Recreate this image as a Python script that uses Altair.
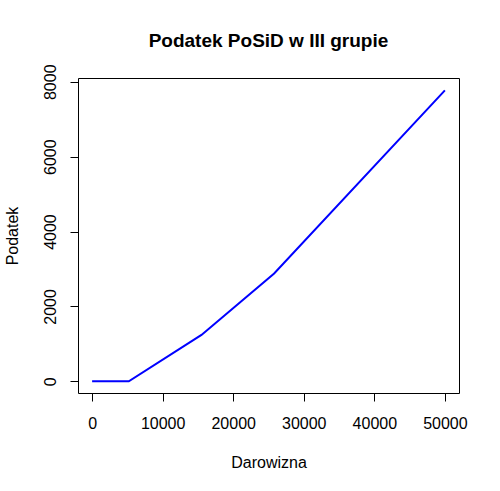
import altair as alt
import pandas as pd

# Gift tax for tax group III: zero up to the exempt amount, then 12% / 16% / 20% brackets
darowizna = [0, 5200, 15500, 25800, 50000]
podatek = [0, 0, 1240, 2880, 7770]

x_ticks = [0, 10000, 20000, 30000, 40000, 50000]
y_ticks = [0, 2000, 4000, 6000, 8000]

df = pd.DataFrame({"Darowizna": darowizna, "Podatek": podatek})

FONT = "Liberation Sans"
W, H = 381, 315

chart = (
    alt.Chart(df)
    .mark_line(color="#0000FF", strokeWidth=2)
    .encode(
        x=alt.X(
            "Darowizna:Q",
            scale=alt.Scale(domain=[-2000, 52000], nice=False, zero=False),
            axis=alt.Axis(
                values=x_ticks,
                format="d",
                grid=False,
                domain=False,
                tickSize=8,
                tickColor="black",
                labelFont=FONT,
                labelFontSize=16,
                labelColor="black",
                labelBaseline="alphabetic",
                labelPadding=27,
                labelOverlap=False,
                labelFlush=False,
                title="Darowizna",
                titleFont=FONT,
                titleFontSize=16,
                titleFontWeight="normal",
                titleColor="black",
                titleX=W / 2,
                titleY=74,
                titleAlign="center",
                titleBaseline="alphabetic",
            ),
        ),
        y=alt.Y(
            "Podatek:Q",
            scale=alt.Scale(domain=[-311, 8100], nice=False, zero=False),
            axis=alt.Axis(
                values=y_ticks,
                format="d",
                grid=False,
                domain=False,
                tickSize=8,
                tickColor="black",
                labelFont=FONT,
                labelFontSize=16,
                labelColor="black",
                labelAngle=270,
                labelAlign="center",
                labelBaseline="alphabetic",
                labelPadding=15,
                labelOverlap=False,
                labelFlush=False,
                title="Podatek",
                titleFont=FONT,
                titleFontSize=16,
                titleFontWeight="normal",
                titleColor="black",
                titleAngle=270,
                titleX=-61,
                titleY=H / 2,
                titleAlign="center",
                titleBaseline="alphabetic",
            ),
        ),
    )
    .properties(
        width=W,
        height=H,
        title=alt.TitleParams(
            "Podatek PoSiD w III grupie",
            font=FONT,
            fontSize=19,
            fontWeight="bold",
            color="black",
            anchor="middle",
            frame="group",
            baseline="alphabetic",
            offset=31,
            dy=33,
        ),
        autosize="none",
        padding={"left": 78, "top": 78, "right": 41, "bottom": 98},
        background="white",
    )
    .configure_view(stroke="black", strokeWidth=1)
)

chart.save("out.html", embed_options={"renderer": "svg", "actions": False})
